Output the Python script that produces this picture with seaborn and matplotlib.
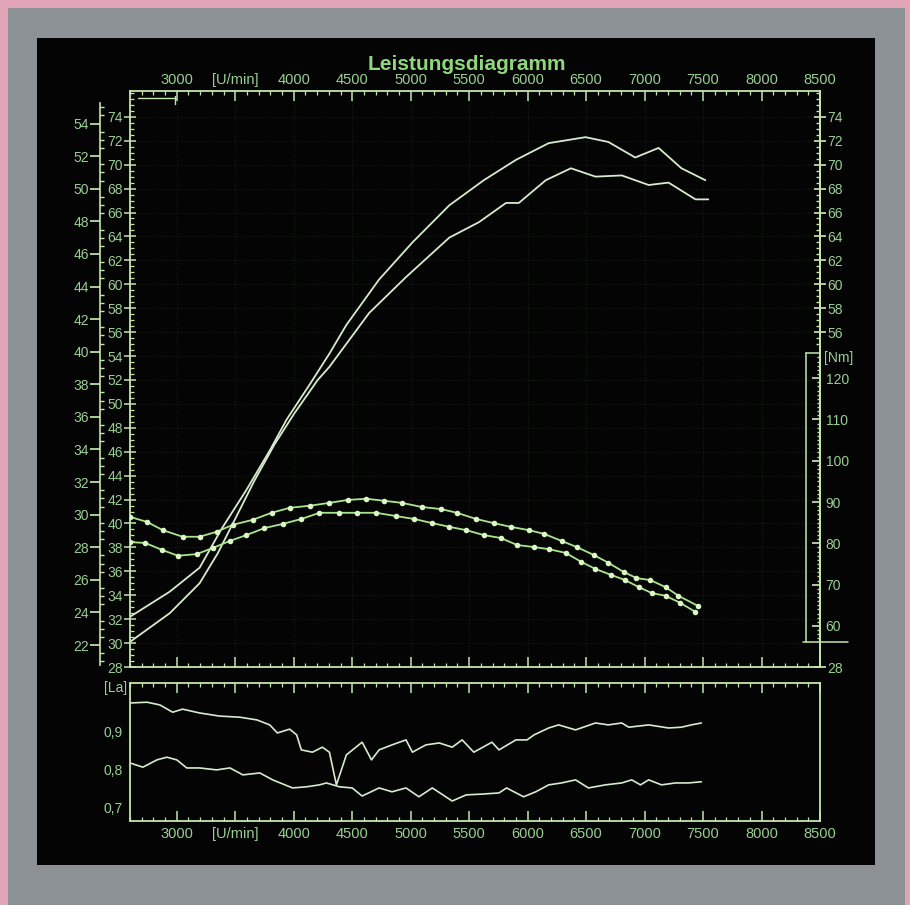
import matplotlib
matplotlib.use("Agg")
import matplotlib.pyplot as plt
import matplotlib.transforms as mtransforms
from matplotlib.patches import Rectangle
from matplotlib.ticker import FixedLocator, MultipleLocator
import seaborn as sns
import numpy as np

# --- power curves [PS] ---
rpm_p1 = [2600, 2940, 3195, 3380, 3595, 3795, 3940, 4135, 4305, 4450, 4730, 5015,
          5330, 5625, 5900, 6180, 6495, 6690, 6920, 7120, 7315, 7520]
ps_p1 = [32.2, 34.3, 36.3, 39.5, 42.8, 46.1, 48.7, 51.6, 54.2, 56.6, 60.4, 63.5,
         66.6, 68.7, 70.4, 71.8, 72.3, 71.9, 70.6, 71.4, 69.7, 68.7]

rpm_p2 = [2600, 2940, 3195, 3350, 3495, 3665, 3835, 4005, 4205, 4305, 4645, 4960,
          5330, 5585, 5815, 5925, 6155, 6370, 6580, 6805, 7035, 7205, 7435, 7545]
ps_p2 = [30.1, 32.5, 35.0, 37.5, 40.3, 43.6, 46.6, 49.2, 52.0, 53.1, 57.6, 60.6,
         63.9, 65.2, 66.8, 66.8, 68.7, 69.7, 69.0, 69.1, 68.3, 68.5, 67.1, 67.1]

# --- torque curves [Nm] ---
rpm_t1 = [2600, 2745, 2880, 3050, 3195, 3340, 3480, 3650, 3810, 3965, 4135, 4305,
          4460, 4620, 4775, 4925, 5095, 5260, 5395, 5560, 5710, 5855, 6010, 6140,
          6290, 6420, 6565, 6690, 6820, 6930, 7050, 7180, 7290, 7460]
nm_t1 = [86.4, 85.2, 83.2, 81.6, 81.6, 82.8, 84.5, 85.7, 87.4, 88.6, 89.1, 89.8,
         90.5, 90.8, 90.3, 89.8, 88.8, 88.3, 87.4, 85.9, 84.9, 84.0, 83.2, 82.3,
         80.6, 79.1, 77.2, 75.3, 73.1, 71.6, 71.1, 69.4, 67.3, 64.8]

rpm_t2 = [2600, 2730, 2875, 3010, 3170, 3310, 3455, 3595, 3750, 3905, 4065, 4220,
          4390, 4545, 4705, 4875, 5030, 5185, 5330, 5475, 5625, 5770, 5910, 6055,
          6180, 6325, 6460, 6580, 6710, 6835, 6950, 7060, 7180, 7305, 7435]
nm_t2 = [80.3, 80.1, 78.4, 77.0, 77.4, 78.9, 80.6, 82.0, 83.7, 84.7, 85.9, 87.4,
         87.4, 87.4, 87.4, 86.6, 85.9, 84.9, 84.0, 83.2, 82.0, 81.3, 79.6, 79.1,
         78.6, 77.7, 75.5, 73.8, 72.4, 71.1, 69.4, 68.0, 67.3, 65.6, 63.4]

# --- lambda curves ---
rpm_l1 = [2600, 2745, 2855, 2965, 3050, 3195, 3365, 3540, 3685, 3795, 3860, 3965,
          4025, 4065, 4160, 4245, 4305, 4365, 4450, 4585, 4665, 4730, 4840, 4960,
          5015, 5130, 5245, 5355, 5440, 5540, 5695, 5755, 5900, 5995, 6055, 6180,
          6265, 6410, 6580, 6690, 6805, 6865, 7035, 7205, 7315, 7400, 7485]
la_l1 = [0.973, 0.975, 0.968, 0.949, 0.957, 0.947, 0.939, 0.936, 0.929, 0.916, 0.895, 0.905,
         0.890, 0.851, 0.845, 0.858, 0.845, 0.760, 0.838, 0.871, 0.825, 0.851, 0.864, 0.877,
         0.845, 0.864, 0.869, 0.858, 0.877, 0.845, 0.871, 0.851, 0.877, 0.877, 0.890, 0.908,
         0.916, 0.903, 0.921, 0.916, 0.921, 0.910, 0.916, 0.908, 0.910, 0.916, 0.921]

rpm_l2 = [2600, 2710, 2830, 2915, 3000, 3085, 3195, 3340, 3455, 3565, 3710, 3820,
          3990, 4110, 4220, 4280, 4390, 4500, 4585, 4730, 4840, 4960, 5070, 5185,
          5355, 5475, 5610, 5755, 5820, 5965, 6070, 6180, 6290, 6410, 6520, 6665,
          6805, 6890, 6965, 7035, 7145, 7265, 7375, 7485]
la_l2 = [0.817, 0.806, 0.825, 0.832, 0.825, 0.804, 0.804, 0.799, 0.804, 0.786, 0.791, 0.773,
         0.752, 0.755, 0.760, 0.765, 0.755, 0.752, 0.731, 0.752, 0.742, 0.752, 0.729, 0.752,
         0.718, 0.734, 0.736, 0.739, 0.752, 0.729, 0.742, 0.760, 0.765, 0.773, 0.752, 0.760,
         0.765, 0.773, 0.760, 0.773, 0.760, 0.765, 0.765, 0.768]

# axis ticks / labels
rpm_ticks = [3000, 3500, 4000, 4500, 5000, 5500, 6000, 6500, 7000, 7500, 8000, 8500]
rpm_labels = ["3000", "[U/min]", "4000", "4500", "5000", "5500", "6000", "6500",
              "7000", "7500", "8000", "8500"]
ps_left_ticks = list(range(28, 75, 2))
ps_right_ticks = [28] + list(range(56, 75, 2))
kw_ticks = list(range(22, 55, 2))
nm_ticks = list(range(60, 121, 10))
la_ticks = [0.7, 0.8, 0.9]
la_labels = ["0,7", "0,8", "0,9"]

LINE = "#c4e6ae"
TXT = "#98cf92"
CURVE = "#d6eacd"
TQ = "#a9e58c"
DOT = "#dcf7c6"
TITLE = "#8fd67c"

sns.set_theme(style="dark")
plt.rcParams["font.family"] = ["Liberation Sans Narrow", "Liberation Sans", "DejaVu Sans"]
plt.rcParams["axes.facecolor"] = "none"

W, H = 910, 905
fig = plt.figure(figsize=(W / 100, H / 100), dpi=100)
fig.patch.set_facecolor("#e2a5b8")
fig.add_artist(Rectangle((8 / W, 0), (905 - 8) / W, (905 - 8) / H, transform=fig.transFigure,
                         facecolor="#8c9196", edgecolor="none", zorder=-20))
fig.add_artist(Rectangle((37 / W, 1 - 865 / H), (875 - 37) / W, (865 - 38) / H,
                         transform=fig.transFigure, facecolor="#040404", edgecolor="none", zorder=-10))

L, R = 130, 820
ax = fig.add_axes([L / W, 1 - 667 / H, (R - L) / W, (667 - 91) / H])
axl = fig.add_axes([L / W, 1 - 821 / H, (R - L) / W, (821 - 683) / H])

XLIM = (2600, 8500)
for a in (ax, axl):
    a.set_xlim(*XLIM)
    a.set_facecolor("none")
    for s in a.spines.values():
        s.set_color(LINE)
        s.set_linewidth(1.3)
    a.xaxis.set_major_locator(FixedLocator(rpm_ticks))
    a.xaxis.set_minor_locator(MultipleLocator(100))
    a.tick_params(which="both", colors=LINE, labelcolor=TXT, labelsize=10.5)
    a.tick_params(which="major", length=7, width=1.1)
    a.tick_params(which="minor", length=3, width=0.9)

# ---------- main (power) axes, PS scale ----------
ax.set_ylim(28, 76.16)
ax.grid(True, which="major", color="#141e13", linestyle=":", linewidth=0.8)
ax.tick_params(axis="x", which="both", top=True, bottom=True, labeltop=True,
               labelbottom=False, direction="in", pad=3)
ax.set_xticklabels(rpm_labels)
ax.yaxis.set_major_locator(FixedLocator(ps_left_ticks))
ax.yaxis.set_minor_locator(MultipleLocator(0.5))
ax.tick_params(axis="y", which="major", direction="inout", length=8, pad=1)
ax.tick_params(axis="y", which="minor", direction="in", length=3)
ax.tick_params(axis="y", labelsize=10, right=False)

sns.lineplot(x=rpm_p1, y=ps_p1, ax=ax, color=CURVE, lw=1.3, sort=False, estimator=None)
sns.lineplot(x=rpm_p2, y=ps_p2, ax=ax, color=CURVE, lw=1.3, sort=False, estimator=None)
ax.set_xlabel("")
ax.set_ylabel("")

# small marker line top-left
ax.plot([0.0116, 0.0652], [0.988, 0.988], transform=ax.transAxes, color=LINE, lw=1.0)
ax.plot([0.0652, 0.0652], [0.978, 0.992], transform=ax.transAxes, color=LINE, lw=1.0)

# ---------- outer left kW scale ----------
axk = ax.twinx()
axk.set_ylim(20.65, 56.0)
for k in ("top", "bottom", "right"):
    axk.spines[k].set_visible(False)
axk.spines["left"].set_visible(True)
axk.spines["left"].set_position(("axes", -30 / (R - L)))
axk.spines["left"].set_bounds(20.8, 55.25)
axk.spines["left"].set_color(LINE)
axk.spines["left"].set_linewidth(1.2)
axk.yaxis.set_ticks_position("left")
axk.yaxis.set_major_locator(FixedLocator(kw_ticks))
axk.yaxis.set_minor_locator(FixedLocator(np.arange(21.0, 55.1, 0.5)))
axk.tick_params(axis="y", which="both", colors=LINE, labelcolor=TXT, labelsize=10)
axk.tick_params(axis="y", which="major", direction="out", length=7, pad=1)
axk.tick_params(axis="y", which="minor", direction="in", length=3)

# ---------- right PS scale ----------
axr = ax.twinx()
axr.set_ylim(28, 76.16)
for k in ("top", "bottom", "left"):
    axr.spines[k].set_visible(False)
axr.spines["right"].set_color(LINE)
axr.spines["right"].set_linewidth(1.3)
axr.yaxis.set_major_locator(FixedLocator(ps_right_ticks))
axr.yaxis.set_minor_locator(FixedLocator(np.arange(55, 76.1, 0.5)))
axr.tick_params(axis="y", which="both", colors=LINE, labelcolor=TXT, labelsize=10)
axr.tick_params(axis="y", which="major", direction="inout", length=8, pad=1)
axr.tick_params(axis="y", which="minor", direction="in", length=3)

# ---------- Nm scale ----------
axn = ax.twinx()
axn.set_ylim(50.07, 189.5)
for k in ("top", "bottom", "left"):
    axn.spines[k].set_visible(False)
axn.spines["right"].set_bounds(56.1, 126)
axn.spines["right"].set_color(LINE)
axn.yaxis.set_major_locator(FixedLocator(nm_ticks))
axn.yaxis.set_minor_locator(FixedLocator(np.arange(57, 126, 1)))
axn.tick_params(axis="y", which="both", colors=LINE, labelcolor=TXT, labelsize=10,
                direction="in")
axn.tick_params(axis="y", which="major", length=6, pad=4)
axn.tick_params(axis="y", which="minor", length=2.5)
bt = mtransforms.blended_transform_factory(axn.transAxes, axn.transData)
axn.plot([(806 - L) / (R - L)] * 2, [56.1, 126], transform=bt, color=LINE, lw=1.1, clip_on=False)
axn.plot([(806 - L) / (R - L), 1.0], [126, 126], transform=bt, color=LINE, lw=1.1, clip_on=False)
axn.plot([(803 - L) / (R - L), (848 - L) / (R - L)], [56.1, 56.1], transform=bt, color=LINE,
         lw=1.1, clip_on=False)
axn.text(1.006, 126.5, "[Nm]", transform=bt, ha="left", va="top", color=TXT, fontsize=10)

sns.lineplot(x=rpm_t1, y=nm_t1, ax=axn, color=TQ, lw=1.3, sort=False, estimator=None,
             marker="o", markersize=4, markeredgewidth=0, markerfacecolor=DOT)
sns.lineplot(x=rpm_t2, y=nm_t2, ax=axn, color=TQ, lw=1.3, sort=False, estimator=None,
             marker="o", markersize=4, markeredgewidth=0, markerfacecolor=DOT)
for a in (axk, axr, axn):
    a.set_ylabel("")
    a.grid(False)

# ---------- lambda panel ----------
axl.set_ylim(0.666, 1.025)
axl.tick_params(axis="x", which="both", top=True, bottom=True, labeltop=False,
                labelbottom=True, direction="in", pad=4)
axl.set_xticklabels(rpm_labels)
axl.yaxis.set_major_locator(FixedLocator(la_ticks))
axl.yaxis.set_minor_locator(MultipleLocator(0.02))
axl.set_yticklabels(la_labels)
axl.tick_params(axis="y", which="major", direction="inout", length=8, pad=1, labelsize=10)
axl.tick_params(axis="y", which="minor", direction="in", length=3)
axl.grid(False)
sns.lineplot(x=rpm_l1, y=la_l1, ax=axl, color=CURVE, lw=1.2, sort=False, estimator=None)
sns.lineplot(x=rpm_l2, y=la_l2, ax=axl, color=CURVE, lw=1.2, sort=False, estimator=None)
axl.set_xlabel("")
axl.set_ylabel("")
axl.text(-0.004, 0.965, "[La]", transform=axl.transAxes, ha="right", va="center",
         color=TXT, fontsize=10)

fig.text(467 / W, 1 - 65 / H, "Leistungsdiagramm", ha="center", va="center",
         fontsize=15, weight="bold", color=TITLE)

fig.savefig("out.png", dpi=100, facecolor=fig.get_facecolor())
